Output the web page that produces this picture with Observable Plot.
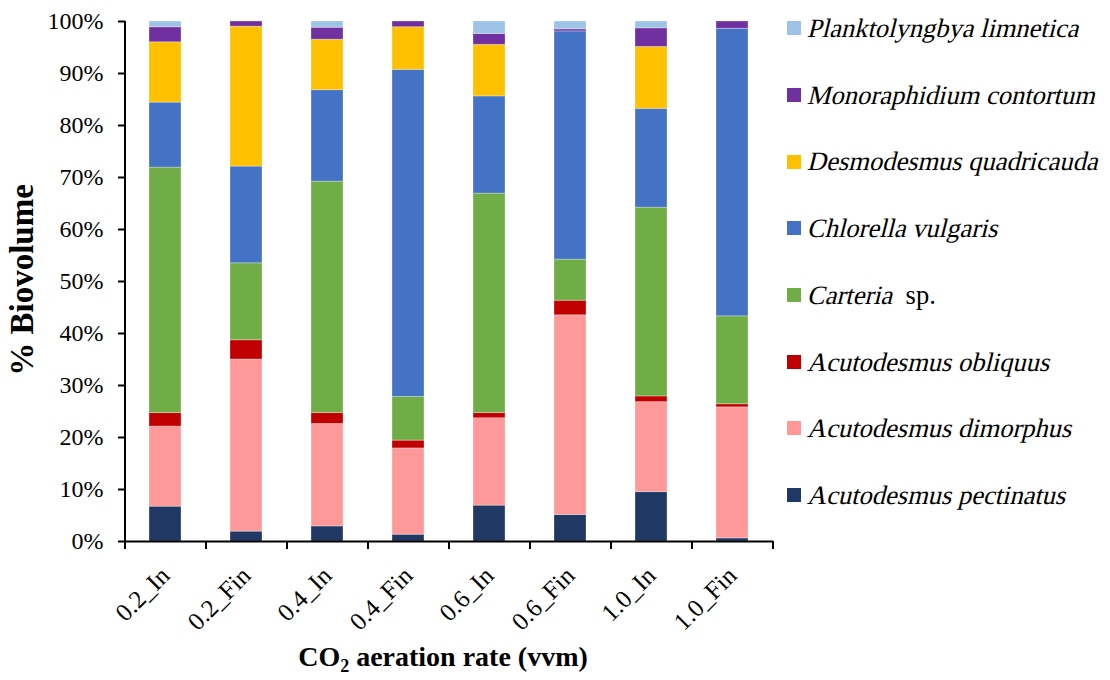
<!DOCTYPE html>
<html>
<head>
<meta charset="utf-8">
<script src="https://cdn.jsdelivr.net/npm/d3@7"></script>
<script src="https://cdn.jsdelivr.net/npm/@observablehq/plot@0.6"></script>
<style>
  html, body { margin: 0; padding: 0; background: #fff; }
  #wrap { position: relative; width: 1110px; height: 680px; font-family: 'Liberation Serif', serif; color: #000; }
  #chart { position: absolute; left: 0; top: 0; }
  #ytitle { position: absolute; left: 22px; top: 280px; transform: translate(-50%, -50%) rotate(-90deg); font-weight: bold; font-size: 33px; white-space: nowrap; line-height: 1; }
  #xtitle { position: absolute; left: 443px; top: 643px; transform: translateX(-50%); font-weight: bold; font-size: 28px; white-space: nowrap; line-height: 1; }
  #xtitle sub { font-size: 18px; vertical-align: -6px; }
  #legend { position: absolute; left: 787px; top: 0; }
  .lg { position: absolute; left: 0; display: flex; align-items: center; white-space: nowrap; font-size: 26.5px; line-height: 1; }
  .sw { width: 14px; height: 14px; margin-right: 6px; flex: none; }
  .it { display: inline-block; transform: skewX(-14deg); transform-origin: 0 80%; }
</style>
</head>
<body>
<div id="wrap">
  <div id="chart"></div>
  <div id="ytitle">% Biovolume</div>
  <div id="xtitle">CO<sub>2</sub> aeration rate (vvm)</div>
  <div id="legend"></div>
</div>
<script>
// Categories (x axis)
const categories = ["0.2_In", "0.2_Fin", "0.4_In", "0.4_Fin", "0.6_In", "0.6_Fin", "1.0_In", "1.0_Fin"];

// Species, bottom to top in the stack
const species = [
  "Acutodesmus pectinatus",
  "Acutodesmus dimorphus",
  "Acutodesmus obliquus",
  "Carteria sp.",
  "Chlorella vulgaris",
  "Desmodesmus quadricauda",
  "Monoraphidium contortum",
  "Planktolyngbya limnetica"
];
const colors = ["#203864", "#FF9999", "#C00000", "#70AD47", "#4472C4", "#FFC000", "#7030A0", "#9DC3E6"];

// % biovolume per species, one value per category
const pectinatus    = [6.7, 1.9, 2.9, 1.3, 6.9, 5.1, 9.5, 0.6];
const dimorphus     = [15.4, 33.1, 19.7, 16.6, 16.8, 38.4, 17.3, 25.2];
const obliquus      = [2.6, 3.7, 2.1, 1.5, 1.0, 2.8, 1.1, 0.6];
const carteria      = [47.2, 14.8, 44.5, 8.4, 42.2, 7.9, 36.3, 16.9];
const chlorella     = [12.5, 18.6, 17.6, 62.9, 18.7, 43.9, 19.0, 55.3];
const desmodesmus   = [11.6, 26.9, 9.7, 8.2, 9.9, 0.0, 11.9, 0.0];
const monoraphidium = [2.9, 1.0, 2.3, 1.1, 2.1, 0.4, 3.6, 1.4];
const planktolyngbya= [1.1, 0.0, 1.2, 0.0, 2.4, 1.5, 1.3, 0.0];

const yTicks = [0, 10, 20, 30, 40, 50, 60, 70, 80, 90, 100];

const series = [pectinatus, dimorphus, obliquus, carteria, chlorella, desmodesmus, monoraphidium, planktolyngbya];
const data = [];
species.forEach((s, i) => categories.forEach((c, j) => data.push({cat: c, species: s, value: series[i][j]})));

const width = 780, height = 680;
const marginLeft = 125, marginRight = 7;
const step = (width - marginLeft - marginRight) / categories.length;

const chart = Plot.plot({
  width, height,
  marginLeft, marginRight,
  marginTop: 21, marginBottom: 139,
  style: {fontFamily: "'Liberation Serif', serif", fontSize: "24px", color: "#000", background: "white"},
  x: {domain: categories, paddingInner: 0.6, paddingOuter: 0.3, label: null},
  y: {domain: [0, 100], label: null},
  color: {domain: species, range: colors},
  marks: [
    Plot.barY(data, {x: "cat", y: "value", fill: "species", z: "species", order: species, stroke: "white", strokeOpacity: 0.3, strokeWidth: 1}),
    Plot.axisY({ticks: yTicks, tickFormat: d => d + "%", tickSize: 7, tickPadding: 15, strokeWidth: 2, fontSize: 24, label: null}),
    Plot.axisX({tickRotate: -45, tickSize: 0, tickPadding: 30, fontSize: 25, label: null}),
    Plot.axisX({tickSize: 8, tickFormat: () => "", dx: -step / 2, strokeWidth: 2, label: null}),
    Plot.axisX({ticks: [categories[categories.length - 1]], tickSize: 8, tickFormat: () => "", dx: step / 2, strokeWidth: 2, label: null}),
    Plot.ruleX([categories[0]], {dx: -step / 2, stroke: "#000", strokeWidth: 2}),
    Plot.ruleY([0], {stroke: "#000", strokeWidth: 2})
  ]
});
document.getElementById("chart").appendChild(chart);

// Legend (top to bottom = reverse stack order)
const legend = document.getElementById("legend");
const rowTop = 28, rowStep = 66.7;
species.slice().reverse().forEach((s, k) => {
  const i = species.length - 1 - k;
  const row = document.createElement("div");
  row.className = "lg";
  row.style.top = (rowTop + k * rowStep - 13) + "px";
  const sw = document.createElement("span");
  sw.className = "sw";
  sw.style.background = colors[i];
  row.appendChild(sw);
  const label = document.createElement("span");
  if (s === "Carteria sp.") {
    label.innerHTML = '<span class="it">Carteria</span>&nbsp; sp.';
  } else {
    label.innerHTML = '<span class="it">' + s + '</span>';
  }
  row.appendChild(label);
  legend.appendChild(row);
});
</script>
</body>
</html>
